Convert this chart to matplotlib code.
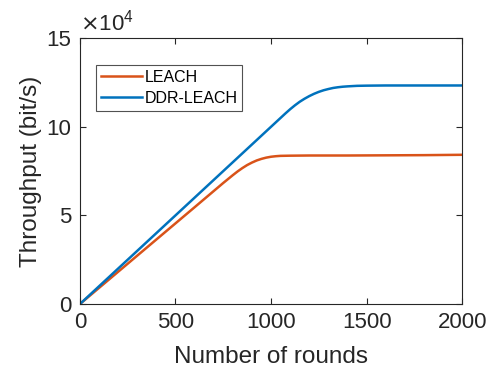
import matplotlib
matplotlib.use("Agg")
import matplotlib.pyplot as plt

plt.rcParams['font.family'] = ['Liberation Sans', 'DejaVu Sans']

# throughput in units of 1e4 bit/s
leach_rounds = [0, 200, 400, 600, 750, 800, 825, 850, 875, 900, 925, 950, 975,
                1000, 1025, 1050, 1100, 1200, 1400, 1600, 1800, 2000]
leach_vals = [0, 1.82, 3.64, 5.46, 6.83, 7.27, 7.48, 7.67, 7.84, 7.98, 8.10, 8.19, 8.26,
              8.31, 8.34, 8.36, 8.37, 8.38, 8.38, 8.39, 8.40, 8.42]

ddr_rounds = [0, 200, 400, 600, 800, 1000, 1075, 1100, 1125, 1150, 1175, 1200, 1225,
              1250, 1275, 1300, 1325, 1350, 1375, 1400, 1450, 1500, 1600, 1800, 2000]
ddr_vals = [0, 2.0, 4.0, 6.0, 8.0, 10.0, 10.75, 10.99, 11.21, 11.41, 11.58, 11.73, 11.86,
            11.97, 12.06, 12.13, 12.19, 12.23, 12.26, 12.28, 12.31, 12.32, 12.33, 12.33, 12.33]

xticks = [0, 500, 1000, 1500, 2000]
yticks = [0, 5, 10, 15]

fig = plt.figure(figsize=(4.87, 3.74), dpi=100)
ax = fig.add_axes([0.164, 0.187, 0.785, 0.711])

ax.plot(leach_rounds, leach_vals, color='#D95319', lw=1.8, label='LEACH')
ax.plot(ddr_rounds, ddr_vals, color='#0072BD', lw=1.8, label='DDR-LEACH')

ax.set_xlim(0, 2000)
ax.set_ylim(0, 15)
ax.set_xticks(xticks)
ax.set_yticks(yticks)
ax.tick_params(direction='in', top=True, right=True, labelsize=16, colors='#262626',
               length=4, width=0.8, pad=6)
for s in ax.spines.values():
    s.set_color('#262626')
    s.set_linewidth(0.8)

ax.set_xlabel('Number of rounds', fontsize=17.5, color='#262626', labelpad=9)
ax.set_ylabel('Throughput (bit/s)', fontsize=17.5, color='#262626', labelpad=3)
ax.text(0.0, 1.01, r'$\times\mathregular{10^{4}}$', transform=ax.transAxes,
        fontsize=16, color='#262626', va='bottom', ha='left')

leg = ax.legend(loc='upper left', bbox_to_anchor=(0.042, 0.9), fontsize=11.5,
                frameon=True, fancybox=False, edgecolor='#262626', borderpad=0.3,
                handlelength=2.6, handletextpad=0.15, labelspacing=0.4, borderaxespad=0)
leg.get_frame().set_linewidth(0.8)

fig.savefig('out.png', dpi=100)
